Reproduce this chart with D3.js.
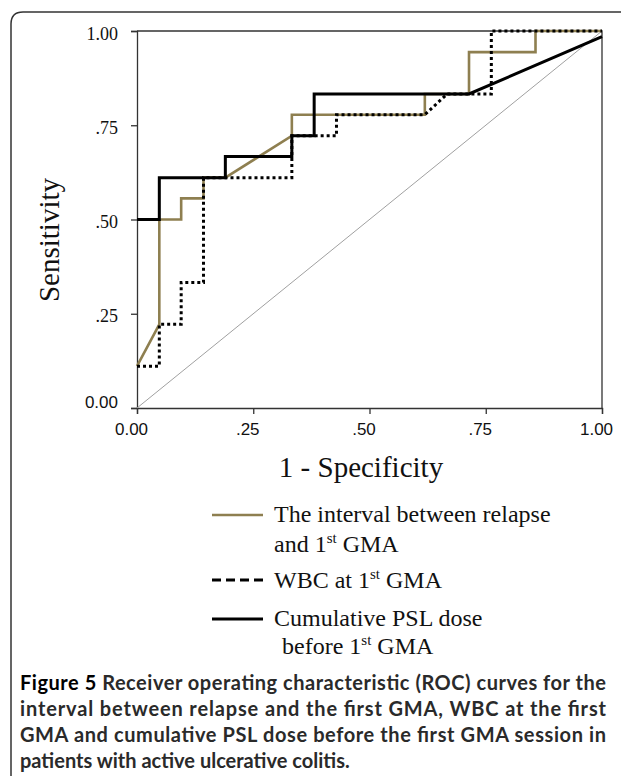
<!DOCTYPE html>
<html>
<head>
<meta charset="utf-8">
<title>ROC curves</title>
<script src="https://d3js.org/d3.v7.min.js"></script>
<style>
  body { margin: 0; background: #fff; }
  .serif { font-family: "Liberation Serif", "DejaVu Serif", serif; fill: #111; }
  .sans { font-family: "Liberation Sans", Arial, sans-serif; fill: #111; }
  .caption { font-family: Lato, "Open Sans", sans-serif; font-weight: bold; fill: #2a2a2a; }
</style>
</head>
<body>
<svg id="chart" width="621" height="776"></svg>
<script>
// 1 - specificity / sensitivity
var intervalX = [0, 0.048, 0.048, 0.095, 0.095, 0.143, 0.143, 0.190, 0.333, 0.333, 0.619, 0.619, 0.714, 0.714, 0.857, 0.857, 1];
var intervalY = [0.111, 0.222, 0.5, 0.5, 0.556, 0.556, 0.611, 0.611, 0.722, 0.778, 0.778, 0.833, 0.833, 0.944, 0.944, 1, 1];

var wbcX = [0, 0.048, 0.048, 0.095, 0.095, 0.143, 0.143, 0.333, 0.333, 0.429, 0.429, 0.619, 0.667, 0.762, 0.762, 1];
var wbcY = [0.111, 0.111, 0.222, 0.222, 0.333, 0.333, 0.611, 0.611, 0.722, 0.722, 0.778, 0.778, 0.833, 0.833, 1, 1];

var pslX = [0, 0.048, 0.048, 0.190, 0.190, 0.333, 0.333, 0.381, 0.381, 0.714, 1];
var pslY = [0.5, 0.5, 0.611, 0.611, 0.667, 0.667, 0.722, 0.722, 0.833, 0.833, 0.985];

var tickValues = [0, 0.25, 0.5, 0.75, 1];
var xTickLabels = ["0.00", ".25", ".50", ".75", "1.00"];
var yTickLabels = ["0.00", ".25", ".50", ".75", "1.00"];

var captionLines = [
  "Receiver operating characteristic (ROC) curves for the",
  "interval between relapse and the first GMA, WBC at the first",
  "GMA and cumulative PSL dose before the first GMA session in",
  "patients with active ulcerative colitis."
];

var gold = "#8e7f50";

var svg = d3.select("#chart");

// outer rounded frame
svg.append("path")
  .attr("d", "M11,776 L11,24 Q11,12 23,12 L625,12")
  .attr("fill", "none").attr("stroke", "#333").attr("stroke-width", 1.5);

var x = d3.scaleLinear().domain([0, 1]).range([137, 602]);
var y = d3.scaleLinear().domain([0, 1]).range([408, 31]);

// plot box
svg.append("path")
  .attr("d", "M" + x(0) + "," + y(1) + "H" + x(1) + "V" + y(0))
  .attr("fill", "none").attr("stroke", "#333").attr("stroke-width", 1.3);

// axes
var xAxis = svg.append("g").attr("transform", "translate(0," + y(0) + ")")
  .call(d3.axisBottom(x).tickValues(tickValues).tickSize(6).tickFormat(""));
var yAxis = svg.append("g").attr("transform", "translate(" + x(0) + ",0)")
  .call(d3.axisLeft(y).tickValues(tickValues).tickSize(6).tickFormat(""));
[xAxis, yAxis].forEach(function (a) {
  a.select(".domain").attr("stroke", "#333").attr("stroke-width", 1.3);
  a.selectAll(".tick line").attr("stroke", "#333").attr("stroke-width", 1.3);
});

xAxis.selectAll(".tick").append("text")
  .attr("class", "sans").attr("y", 27).attr("dx", -6)
  .attr("text-anchor", "middle").style("font-size", "17px")
  .text(function (d, i) { return xTickLabels[i]; });

yAxis.selectAll(".tick").append("text")
  .attr("class", function (d) { return d === 0 ? "sans" : "serif"; })
  .attr("x", -19).attr("y", function (d) { return d === 0 ? -1 : 8; })
  .attr("text-anchor", "end")
  .style("font-size", function (d) { return d === 0 ? "17px" : "18px"; })
  .text(function (d, i) { return yTickLabels[i]; });

// axis titles
svg.append("text").attr("class", "serif")
  .attr("x", 361).attr("y", 477).attr("text-anchor", "middle")
  .style("font-size", "29px").text("1 - Specificity");

svg.append("text").attr("class", "serif")
  .attr("transform", "translate(59,240) rotate(-90)")
  .attr("text-anchor", "middle")
  .style("font-size", "29px").text("Sensitivity");

// chance diagonal
svg.append("line")
  .attr("x1", x(0)).attr("y1", y(0)).attr("x2", x(1)).attr("y2", y(1))
  .attr("stroke", "#a0a0a0").attr("stroke-width", 1);

// blue reference visible under the dotted top segment
svg.append("line")
  .attr("x1", x(0.857)).attr("y1", y(1)).attr("x2", x(1)).attr("y2", y(1))
  .attr("stroke", "#2b3fd8").attr("stroke-width", 1.5);

var line = d3.line().x(function (d) { return x(d[0]); }).y(function (d) { return y(d[1]); });
function pairs(xs, ys) { return xs.map(function (v, i) { return [v, ys[i]]; }); }

svg.append("path").datum(pairs(intervalX, intervalY)).attr("d", line)
  .attr("fill", "none").attr("stroke", gold).attr("stroke-width", 2.6);

svg.append("path").datum(pairs(pslX, pslY)).attr("d", line)
  .attr("fill", "none").attr("stroke", "#000").attr("stroke-width", 3);

svg.append("path").datum(pairs(wbcX, wbcY)).attr("d", line)
  .attr("fill", "none").attr("stroke", "#000").attr("stroke-width", 3)
  .attr("stroke-dasharray", "3,3");

// legend
function withSup(sel, before, after) {
  sel.append("tspan").text(before);
  sel.append("tspan").attr("dy", -9).style("font-size", "15px").text("st");
  sel.append("tspan").attr("dy", 9).text(after);
}

var lg = svg.append("g").attr("class", "serif").style("font-size", "24px");

lg.append("line").attr("x1", 212).attr("x2", 263).attr("y1", 515).attr("y2", 515)
  .attr("stroke", gold).attr("stroke-width", 2.6);
lg.append("text").attr("x", 274).attr("y", 522).text("The interval between relapse");
withSup(lg.append("text").attr("x", 274).attr("y", 552), "and 1", " GMA");

lg.append("line").attr("x1", 212).attr("x2", 263).attr("y1", 580).attr("y2", 580)
  .attr("stroke", "#000").attr("stroke-width", 3).attr("stroke-dasharray", "9,5");
withSup(lg.append("text").attr("x", 274).attr("y", 588), "WBC at 1", " GMA");

lg.append("line").attr("x1", 212).attr("x2", 263).attr("y1", 619).attr("y2", 619)
  .attr("stroke", "#000").attr("stroke-width", 3);
lg.append("text").attr("x", 274).attr("y", 626).text("Cumulative PSL dose");
withSup(lg.append("text").attr("x", 282).attr("y", 654), "before 1", " GMA");

// caption, justified like the journal layout (last line ragged)
var cap = svg.append("g").attr("class", "caption").style("font-size", "20px");
captionLines.forEach(function (t, i) {
  var tx = cap.append("text").attr("x", 20).attr("y", 690 + i * 26);
  if (i === 0) {
    tx.append("tspan").style("fill", "#000").text("Figure 5 ");
  }
  tx.append("tspan").text(t);
  if (i < captionLines.length - 1) {
    tx.attr("textLength", 586).attr("lengthAdjust", "spacing");
  }
});
</script>
</body>
</html>
